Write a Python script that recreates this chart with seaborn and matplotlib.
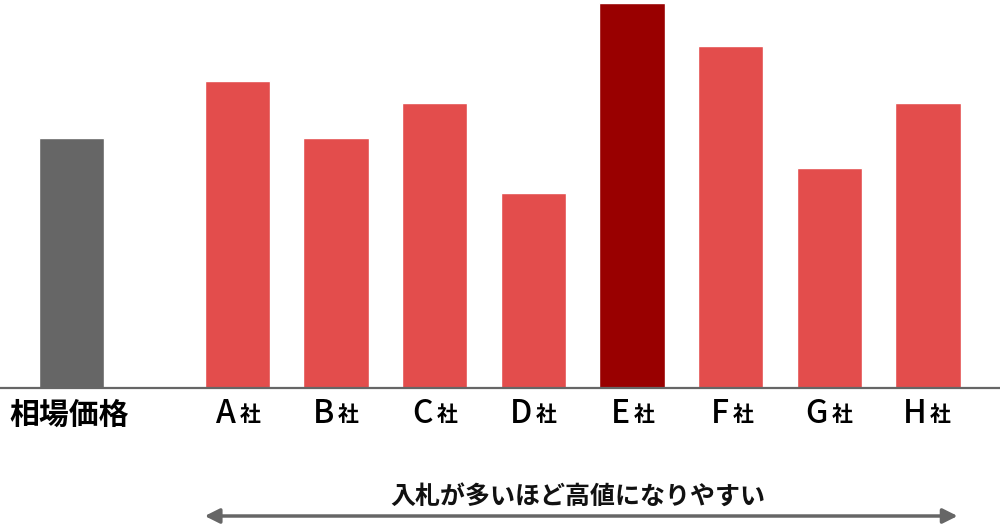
import matplotlib
matplotlib.use("Agg")
import matplotlib.pyplot as plt
import matplotlib.transforms as mtransforms
import seaborn as sns
import pandas as pd
import numpy as np

# ---- data ----
market_label = "相場価格"
companies = ["A", "B", "C", "D", "E", "F", "G", "H"]
market_value = 100
company_values = [123, 100, 114, 78, 154, 137, 88, 114]
caption = "入札が多いほど高値になりやすい"

# ---- styles ----
grey = "#666666"
red = "#E34D4C"
dark_red = "#990000"

sns.set_theme(style="white")
plt.rcParams["font.family"] = ["Noto Sans CJK JP", "DejaVu Sans"]

gap = 1.68
labels = [market_label] + [c + "社" for c in companies]
values = [market_value] + company_values
positions = [0.0] + [gap + i for i in range(len(companies))]
top_idx = int(np.argmax(company_values))
palette = {market_label: grey}
for i, c in enumerate(companies):
    palette[c + "社"] = dark_red if i == top_idx else red

df = pd.DataFrame({"label": labels, "value": values, "pos": positions})

fig = plt.figure(figsize=(10, 5.27), dpi=100)
ax = fig.add_axes([0, 1 - 388 / 527, 1, 388 / 527])

sns.barplot(data=df, x="pos", y="value", hue="label", palette=palette,
            native_scale=True, width=0.66, dodge=False, legend=False,
            saturation=1, ax=ax)

ax.set_xlim(-0.725, positions[-1] + 0.73)
ax.set_ylim(0, 155.2)
ax.set_xlabel("")
ax.set_ylabel("")
ax.set_xticks([])
ax.set_yticks([])
for s in ["top", "left", "right"]:
    ax.spines[s].set_visible(False)
ax.spines["bottom"].set_color(grey)
ax.spines["bottom"].set_linewidth(1.6)

# labels under bars
ax.annotate(market_label, xy=(positions[0] - 0.02, 0), xycoords=("data", "axes fraction"),
            xytext=(0, -19), textcoords="offset points", ha="center", va="center",
            fontsize=21.5, fontweight="bold", color="black", annotation_clip=False)
for i, c in enumerate(companies):
    x = positions[i + 1]
    ax.annotate(c, xy=(x - 0.015, 0), xycoords=("data", "axes fraction"),
                xytext=(0, -18.5), textcoords="offset points", ha="right", va="center",
                fontsize=23, fontweight="medium", color="black", annotation_clip=False)
    ax.annotate("社", xy=(x + 0.02, 0), xycoords=("data", "axes fraction"),
                xytext=(0, -19), textcoords="offset points", ha="left", va="center",
                fontsize=15, fontweight="bold", color="black", annotation_clip=False)

# caption + arrow
mid = (positions[1] + positions[-1]) / 2 - 0.05
ax.annotate(caption, xy=(mid, 0), xycoords=("data", "axes fraction"),
            xytext=(0, -78.5), textcoords="offset points", ha="center", va="center",
            fontsize=18, fontweight="bold", color="#111111", annotation_clip=False)

base = mtransforms.blended_transform_factory(ax.transData, ax.transAxes)
arrow_tr = mtransforms.offset_copy(base, fig=fig, y=-128 * 0.72, units="points")
ax.annotate("", xy=(positions[1] - 0.33, 0), xycoords=arrow_tr,
            xytext=(positions[-1] + 0.3, 0), textcoords=arrow_tr,
            arrowprops=dict(arrowstyle="<|-|>", color=grey, lw=2.5,
                            mutation_scale=22, shrinkA=0, shrinkB=0),
            annotation_clip=False)

fig.savefig("out.png", dpi=100, facecolor="white")
